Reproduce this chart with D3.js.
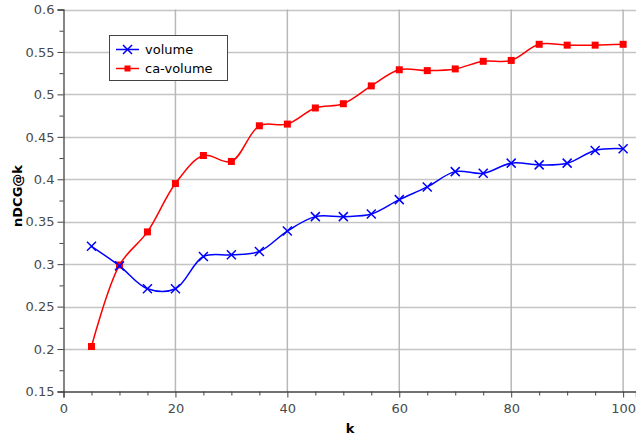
<!DOCTYPE html>
<html><head><meta charset="utf-8">
<script src="https://cdn.jsdelivr.net/npm/d3@7"></script>
<style>body{margin:0;background:#fff;} svg{display:block;font-family:"DejaVu Sans",sans-serif;}</style>
</head><body><svg id="c" width="636" height="438"></svg>
<script>
const kValues = [5,10,15,20,25,30,35,40,45,50,55,60,65,70,75,80,85,90,95,100];
const volume = [0.321,0.298,0.271,0.271,0.309,0.311,0.315,0.339,0.356,0.356,0.359,0.376,0.391,0.409,0.407,0.419,0.417,0.419,0.434,0.436];
const caVolume = [0.203,0.299,0.338,0.395,0.428,0.421,0.463,0.465,0.484,0.489,0.510,0.529,0.528,0.530,0.539,0.540,0.559,0.558,0.558,0.559];
const seriesNames = ["volume","ca-volume"];
const xTicks = [0,20,40,60,80,100];
const yTicks = [0.15,0.2,0.25,0.3,0.35,0.4,0.45,0.5,0.55,0.6];

const svg = d3.select("#c");
const L = 63.5, R = 636, T = 9.5, B = 391.5;
const x = d3.scaleLinear().domain([0, 102.3]).range([L, R]);
const y = d3.scaleLinear().domain([0.15, 0.6]).range([B, T]);

// grid
const g = svg.append("g");
g.selectAll(".hg").data(yTicks.slice(1)).join("line")
  .attr("x1", L).attr("x2", R).attr("y1", d=>Math.round(y(d))+0.5).attr("y2", d=>Math.round(y(d))+0.5)
  .attr("stroke", "#c4c4c4").attr("stroke-width", 1.5);
g.selectAll(".vg").data(xTicks.slice(1)).join("line")
  .attr("y1", T).attr("y2", B).attr("x1", d=>x(d)).attr("x2", d=>x(d))
  .attr("stroke", "#b8b8b8").attr("stroke-width", 1.5);

// axes
const yAxis = d3.axisLeft(y).tickValues(yTicks).tickFormat(d=>d3.format("")(+d.toFixed(2))).tickSize(6).tickPadding(3);
const ya = svg.append("g").attr("transform", `translate(${L},0)`).call(yAxis);
const yMinor = d3.axisLeft(y).tickValues(d3.range(0.175, 0.6, 0.05)).tickFormat("").tickSize(4);
svg.append("g").attr("transform", `translate(${L},0)`).call(yMinor).select(".domain").remove();

const xAxis = d3.axisBottom(x).tickValues(xTicks).tickSize(6).tickPadding(6);
const xa = svg.append("g").attr("transform", `translate(0,${B})`).call(xAxis);
const xMinor = d3.axisBottom(x).tickValues(d3.range(5, 101, 5).filter(v=>v%20)).tickFormat("").tickSize(4);
svg.append("g").attr("transform", `translate(0,${B})`).call(xMinor).select(".domain").remove();

svg.selectAll(".domain").attr("stroke", "#444").attr("stroke-width", 1.3);
svg.selectAll(".tick line").attr("stroke", "#444");
svg.selectAll(".tick text").attr("fill", "#4a4a4a").style("font-size", "13px").style("font-family", "DejaVu Sans");

// axis titles
svg.append("text").attr("x", x(51.2)).attr("y", 433).attr("text-anchor", "middle")
  .style("font-size", "13px").style("font-weight", "bold").text("k");
svg.append("text").attr("transform", `translate(22,196) rotate(-90)`).attr("text-anchor", "middle")
  .style("font-size", "13px").style("font-weight", "bold").text("nDCG@k");

// lines
const line = d3.line().x((d,i)=>x(kValues[i])).y(d=>y(d)).curve(d3.curveCatmullRom.alpha(0.5));
svg.append("path").datum(caVolume).attr("d", line).attr("fill","none").attr("stroke","#ff0000").attr("stroke-width",1.5);
svg.append("path").datum(volume).attr("d", line).attr("fill","none").attr("stroke","#0000ff").attr("stroke-width",1.5);

// markers
svg.append("g").selectAll("rect").data(caVolume).join("rect")
  .attr("x",(d,i)=>x(kValues[i])-3.5).attr("y",d=>y(d)-3.5).attr("width",7).attr("height",7).attr("fill","#ff0000");
const cross = (sel, cx, cy, s) => sel.append("path")
  .attr("d", `M${cx-s},${cy-s}L${cx+s},${cy+s}M${cx-s},${cy+s}L${cx+s},${cy-s}`)
  .attr("stroke","#0000ff").attr("stroke-width",1.5).attr("fill","none");
const cg = svg.append("g");
volume.forEach((d,i)=>cross(cg, x(kValues[i]), y(d), 4.5));

// legend
const lg = svg.append("g");
lg.append("rect").attr("x",109.5).attr("y",35.5).attr("width",118).attr("height",45)
  .attr("fill","#fff").attr("stroke","#444").attr("stroke-width",1);
const colors = ["#0000ff","#ff0000"];
seriesNames.forEach((n,i)=>{
  const cy = 49.5 + i*19;
  lg.append("line").attr("x1",116).attr("x2",139).attr("y1",cy).attr("y2",cy).attr("stroke",colors[i]).attr("stroke-width",1.5);
  if(i===0) cross(lg, 127.5, cy, 4.5);
  else lg.append("rect").attr("x",124.5).attr("y",cy-3).attr("width",6).attr("height",6).attr("fill",colors[i]);
  lg.append("text").attr("x",145).attr("y",cy+4.5).style("font-size","13px").attr("fill","#000").text(n);
});
</script></body></html>
